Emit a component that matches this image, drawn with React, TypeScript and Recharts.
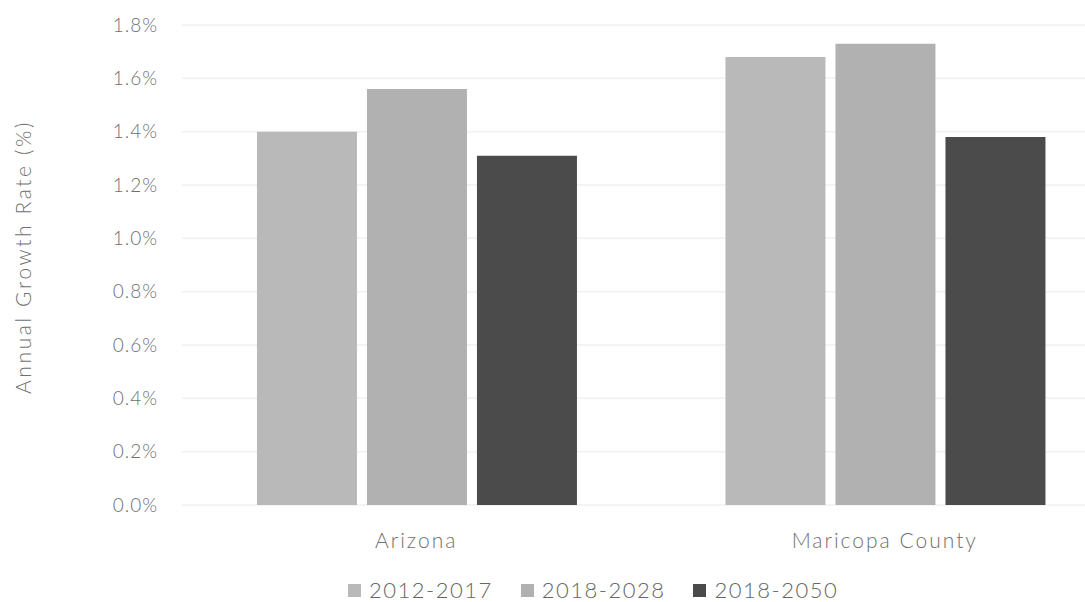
import { BarChart, Bar, XAxis, YAxis, CartesianGrid, Label } from "recharts";

const regions = ["Arizona", "Maricopa County"];
const growth2012to2017 = [1.4, 1.68];
const growth2018to2028 = [1.56, 1.73];
const growth2018to2050 = [1.31, 1.38];
const yTicks = [0, 0.2, 0.4, 0.6, 0.8, 1.0, 1.2, 1.4, 1.6, 1.8];

const series = [
  { key: "p2012", name: "2012-2017", color: "#b9b9b9", values: growth2012to2017 },
  { key: "p2018", name: "2018-2028", color: "#b1b1b1", values: growth2018to2028 },
  { key: "p2050", name: "2018-2050", color: "#4b4b4b", values: growth2018to2050 },
];

const data = regions.map((region, i) => {
  const row: Record<string, string | number> = { region };
  series.forEach((s) => {
    row[s.key] = s.values[i];
  });
  return row;
});

const FONT = "Lato, 'Open Sans', sans-serif";
const TEXT = "#707070";

// rotated axis title, sitting a little above the plot's vertical middle
function AxisTitle({ viewBox }: any) {
  const cx = 22;
  const cy = viewBox.y + viewBox.height / 2 - 8;
  return (
    <text
      x={cx}
      y={cy}
      transform={`rotate(-90, ${cx}, ${cy})`}
      textAnchor="middle"
      dominantBaseline="central"
      fontSize={21}
      fill={TEXT}
      fontFamily={FONT}
      fontWeight={300}
      letterSpacing={2.6}
    >
      Annual Growth Rate (%)
    </text>
  );
}

export default function App() {
  return (
    <div
      style={{
        position: "absolute",
        left: 0,
        top: 0,
        width: 1085,
        height: 602,
        overflow: "hidden",
        background: "#fff",
        fontFamily: FONT,
      }}
    >
      <BarChart
        width={1119}
        height={602}
        data={data}
        margin={{ top: 25, right: 0, left: 0, bottom: 0 }}
        barCategoryGap="16%"
        barGap={10}
      >
        <CartesianGrid vertical={false} stroke="#f1f1f1" strokeWidth={1.5} />
        <XAxis
          dataKey="region"
          height={97}
          axisLine={false}
          tickLine={false}
          tickSize={0}
          tickMargin={28}
          tick={{ fontSize: 21, fill: TEXT, fontFamily: FONT, fontWeight: 300, letterSpacing: 2 }}
        />
        <YAxis
          width={182}
          domain={[0, 1.8]}
          ticks={yTicks}
          interval={0}
          axisLine={false}
          tickLine={false}
          tickSize={0}
          tickMargin={24}
          tickFormatter={(v: number) => `${v.toFixed(1)}%`}
          tick={{ fontSize: 19, fill: TEXT, fontFamily: FONT, fontWeight: 300, letterSpacing: 1 }}
        >
          <Label content={AxisTitle} />
        </YAxis>
        {series.map((s) => (
          <Bar key={s.key} dataKey={s.key} name={s.name} fill={s.color} isAnimationActive={false} />
        ))}
      </BarChart>

      {/* legend row under the category labels */}
      <div
        style={{
          position: "absolute",
          top: 576,
          left: 348,
          display: "flex",
          alignItems: "center",
          fontSize: 22,
          color: "#666",
          fontWeight: 300,
          letterSpacing: 1.5,
          lineHeight: "28px",
        }}
      >
        {series.map((s) => (
          <div key={s.key} style={{ display: "flex", alignItems: "center", marginRight: 28 }}>
            <span
              style={{ display: "inline-block", width: 13, height: 13, background: s.color, marginRight: 8 }}
            />
            <span>{s.name}</span>
          </div>
        ))}
      </div>
    </div>
  );
}
